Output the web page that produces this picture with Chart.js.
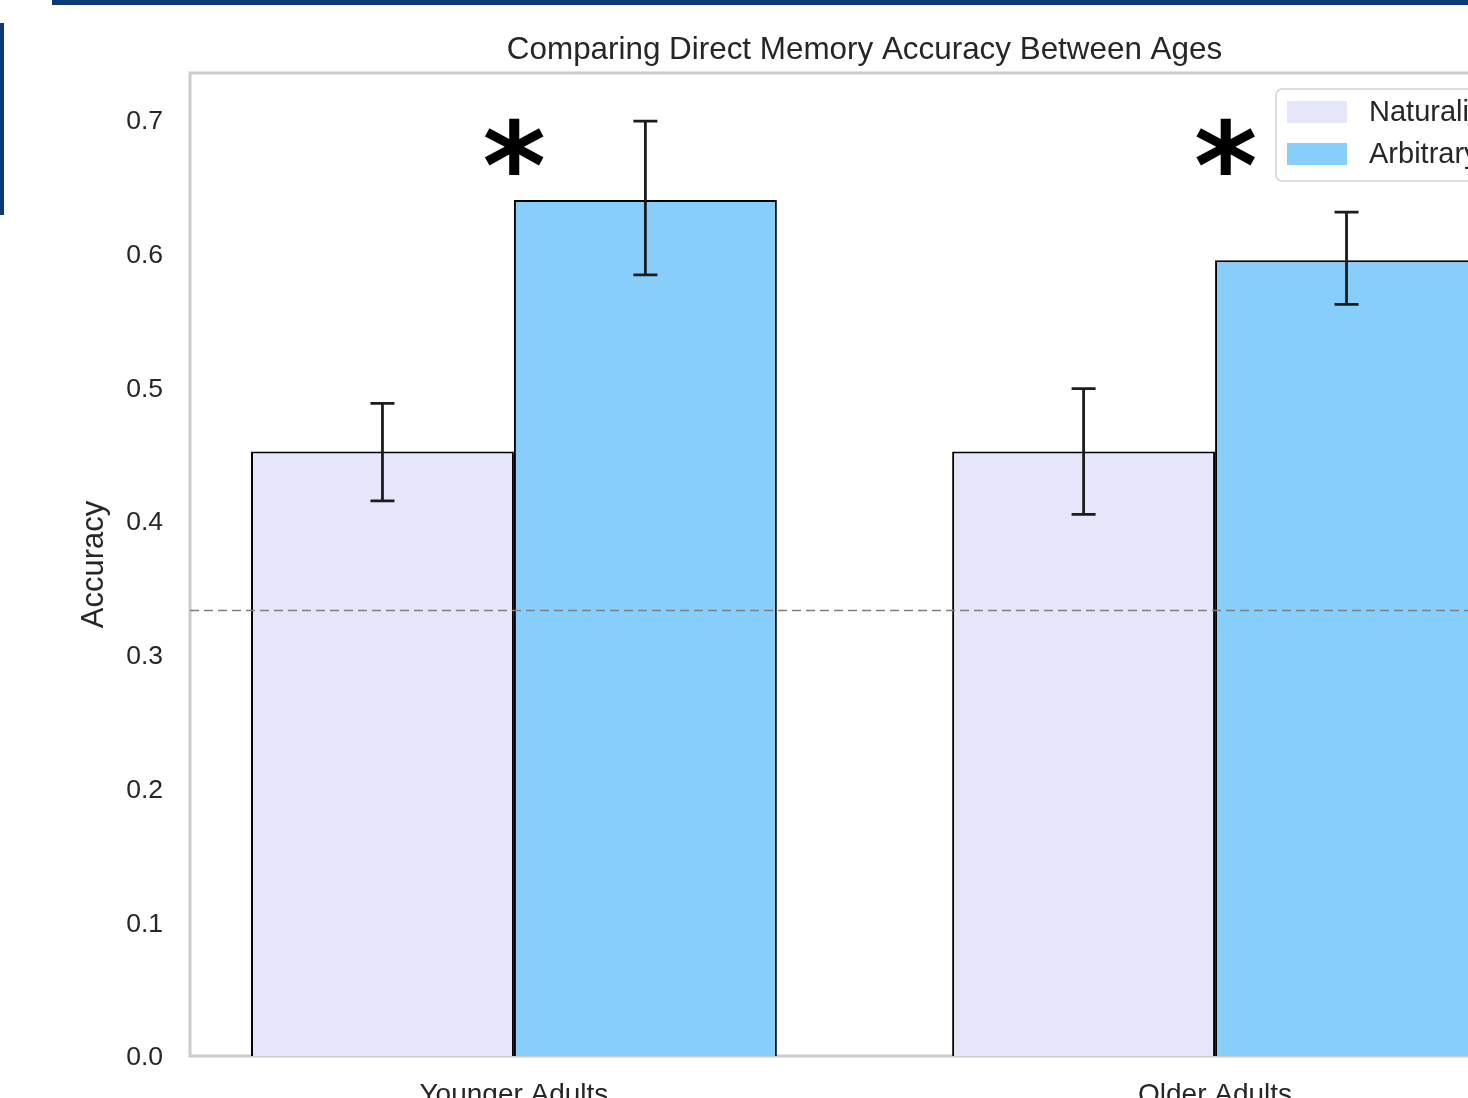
<!DOCTYPE html>
<html>
<head>
<meta charset="utf-8">
<title>Comparing Direct Memory Accuracy Between Ages</title>
<script src="https://cdn.jsdelivr.net/npm/chart.js@4/dist/chart.umd.min.js"></script>
<style>
  html, body { margin: 0; padding: 0; overflow: hidden; background: #ffffff; }
  body { width: 1468px; height: 1098px; position: relative; }
  #wrap { position: absolute; left: 0; top: 0; width: 1560px; height: 1130px; }
  .rule-top { position: absolute; left: 52px; top: 0; width: 1416px; height: 5px; background: #0b3a78; }
  .rule-left { position: absolute; left: 0; top: 23px; width: 4px; height: 192px; background: #0b3a78; }
</style>
</head>
<body>
<div id="wrap"><canvas id="chart"></canvas></div>
<div class="rule-top"></div>
<div class="rule-left"></div>
<script>
// Age groups on the x axis
const categories = ['Younger Adults', 'Older Adults'];
const seriesNames = ['Naturalistic', 'Arbitrary'];

// Mean direct-memory accuracy per group
const naturalistic = [0.452, 0.452];
const arbitrary = [0.640, 0.595];

// Error bar bounds
const naturalisticLow = [0.415, 0.405];
const naturalisticHigh = [0.488, 0.499];
const arbitraryLow = [0.584, 0.562];
const arbitraryHigh = [0.699, 0.631];

// Chance level (three-alternative choice)
const chanceLevel = 1 / 3;

// Y tick values
const yTicks = [0.0, 0.1, 0.2, 0.3, 0.4, 0.5, 0.6, 0.7];

// Significance markers: [category position, accuracy level]
const sigX = [0, 1.015];
const sigY = [0.680, 0.680];

const TEXT = '#262626';
const FONT = "'Liberation Sans', Arial, sans-serif";

const toPoints = vals => vals.map((v, i) => ({ x: i, y: v }));

const framePlugin = {
  id: 'frame',
  beforeDatasetsDraw(chart) {
    const { ctx, chartArea: a } = chart;
    ctx.save();
    ctx.strokeStyle = '#cccccc';
    ctx.lineWidth = 3;
    ctx.strokeRect(a.left, a.top, a.right - a.left, a.bottom - a.top);
    ctx.restore();
  }
};

const overlayPlugin = {
  id: 'overlay',
  afterDatasetsDraw(chart) {
    const { ctx, chartArea: a, scales } = chart;
    const ys = scales.y, xs = scales.x;

    // chance line
    ctx.save();
    const cy = Math.round(ys.getPixelForValue(chanceLevel)) + 0.5;
    ctx.strokeStyle = '#7f7f7f';
    ctx.lineWidth = 1.5;
    ctx.setLineDash([9, 5]);
    ctx.beginPath();
    ctx.moveTo(a.left, cy);
    ctx.lineTo(a.right, cy);
    ctx.stroke();
    ctx.restore();

    // error bars
    const lows = [naturalisticLow, arbitraryLow];
    const highs = [naturalisticHigh, arbitraryHigh];
    ctx.save();
    ctx.strokeStyle = '#1c1c1c';
    ctx.lineWidth = 2.8;
    chart.data.datasets.forEach((ds, di) => {
      const meta = chart.getDatasetMeta(di);
      meta.data.forEach((bar, i) => {
        const x = bar.x;
        const y1 = ys.getPixelForValue(lows[di][i]);
        const y2 = ys.getPixelForValue(highs[di][i]);
        const cap = 12;
        ctx.beginPath();
        ctx.moveTo(x, y1); ctx.lineTo(x, y2);
        ctx.moveTo(x - cap, y1); ctx.lineTo(x + cap, y1);
        ctx.moveTo(x - cap, y2); ctx.lineTo(x + cap, y2);
        ctx.stroke();
      });
    });
    ctx.restore();

    // significance asterisks
    ctx.save();
    ctx.fillStyle = '#000000';
    const starFont = size => `bold ${size}px 'DejaVu Sans', sans-serif`;
    ctx.font = starFont(100);
    let m = ctx.measureText('*');
    const h100 = m.actualBoundingBoxAscent + m.actualBoundingBoxDescent;
    const size = 100 * 57 / h100;
    ctx.font = starFont(size);
    m = ctx.measureText('*');
    ctx.textAlign = 'left';
    ctx.textBaseline = 'alphabetic';
    sigX.forEach((sx, i) => {
      const px = xs.getPixelForValue(sx);
      const py = ys.getPixelForValue(sigY[i]);
      const w = m.actualBoundingBoxLeft + m.actualBoundingBoxRight;
      const hh = m.actualBoundingBoxAscent + m.actualBoundingBoxDescent;
      const x0 = px - w / 2 + m.actualBoundingBoxLeft;
      const y0 = py - hh / 2 + m.actualBoundingBoxAscent;
      ctx.fillText('*', x0, y0);
    });
    ctx.restore();
  },
  afterDraw(chart) {
    const { ctx, chartArea: a } = chart;
    // title centred over the plot area
    ctx.save();
    ctx.fillStyle = TEXT;
    ctx.font = `31.4px ${FONT}`;
    ctx.textAlign = 'center';
    ctx.textBaseline = 'middle';
    ctx.fillText('Comparing Direct Memory Accuracy Between Ages', (a.left + a.right) / 2, 50);
    ctx.restore();

    // legend box in the upper right of the plot
    ctx.save();
    const bx = 1276, by = 89, bw = 255, bh = 92, r = 6;
    ctx.fillStyle = 'rgba(255,255,255,0.85)';
    ctx.strokeStyle = '#d4d4d4';
    ctx.lineWidth = 1.5;
    ctx.beginPath();
    ctx.roundRect(bx, by, bw, bh, r);
    ctx.fill();
    ctx.stroke();
    ctx.font = `29px ${FONT}`;
    ctx.textAlign = 'left';
    ctx.textBaseline = 'middle';
    chart.data.datasets.forEach((ds, i) => {
      const rowY = 112 + i * 42;
      ctx.fillStyle = ds.backgroundColor;
      ctx.fillRect(1287, rowY - 11, 60, 22);
      ctx.fillStyle = TEXT;
      ctx.fillText(ds.label, 1369, rowY + 1);
    });
    ctx.restore();
  }
};

new Chart(document.getElementById('chart'), {
  type: 'bar',
  data: {
    datasets: [
      {
        label: seriesNames[0],
        data: toPoints(naturalistic),
        backgroundColor: '#E6E6FA',
        borderColor: '#000000',
        borderWidth: 2
      },
      {
        label: seriesNames[1],
        data: toPoints(arbitrary),
        backgroundColor: '#87CEFA',
        borderColor: '#000000',
        borderWidth: 2
      }
    ]
  },
  options: {
    responsive: true,
    maintainAspectRatio: false,
    devicePixelRatio: 1,
    animation: false,
    layout: { padding: { top: 73, right: 21, left: 0, bottom: 0 } },
    datasets: { bar: { categoryPercentage: 0.75, barPercentage: 1.0 } },
    plugins: {
      legend: { display: false },
      title: { display: false },
      tooltip: { enabled: false }
    },
    scales: {
      x: {
        type: 'linear',
        offset: false,
        min: -0.462,
        max: 1.462,
        grid: { display: false, drawTicks: false, offset: false },
        border: { display: false },
        afterBuildTicks(scale) {
          scale.ticks = categories.map((_, i) => ({ value: i }));
        },
        afterFit(scale) { scale.height = 1130 - 1056; },
        ticks: {
          autoSkip: false,
          maxRotation: 0,
          padding: 22,
          color: TEXT,
          font: { family: FONT, size: 28 },
          callback: v => categories[v] ?? ''
        }
      },
      y: {
        min: 0,
        max: 0.735,
        grid: { display: false, drawTicks: false },
        border: { display: false },
        afterBuildTicks(scale) {
          scale.ticks = yTicks.map(v => ({ value: v }));
        },
        afterFit(scale) { scale.width = 190; },
        ticks: {
          padding: 27,
          labelOffset: 2,
          color: TEXT,
          font: { family: FONT, size: 26.5 },
          callback: v => Number(v).toFixed(1)
        },
        title: {
          display: true,
          text: 'Accuracy',
          color: TEXT,
          font: { family: FONT, size: 31 },
          padding: { top: 76, bottom: 0 }
        }
      }
    }
  },
  plugins: [framePlugin, overlayPlugin]
});
</script>
</body>
</html>
